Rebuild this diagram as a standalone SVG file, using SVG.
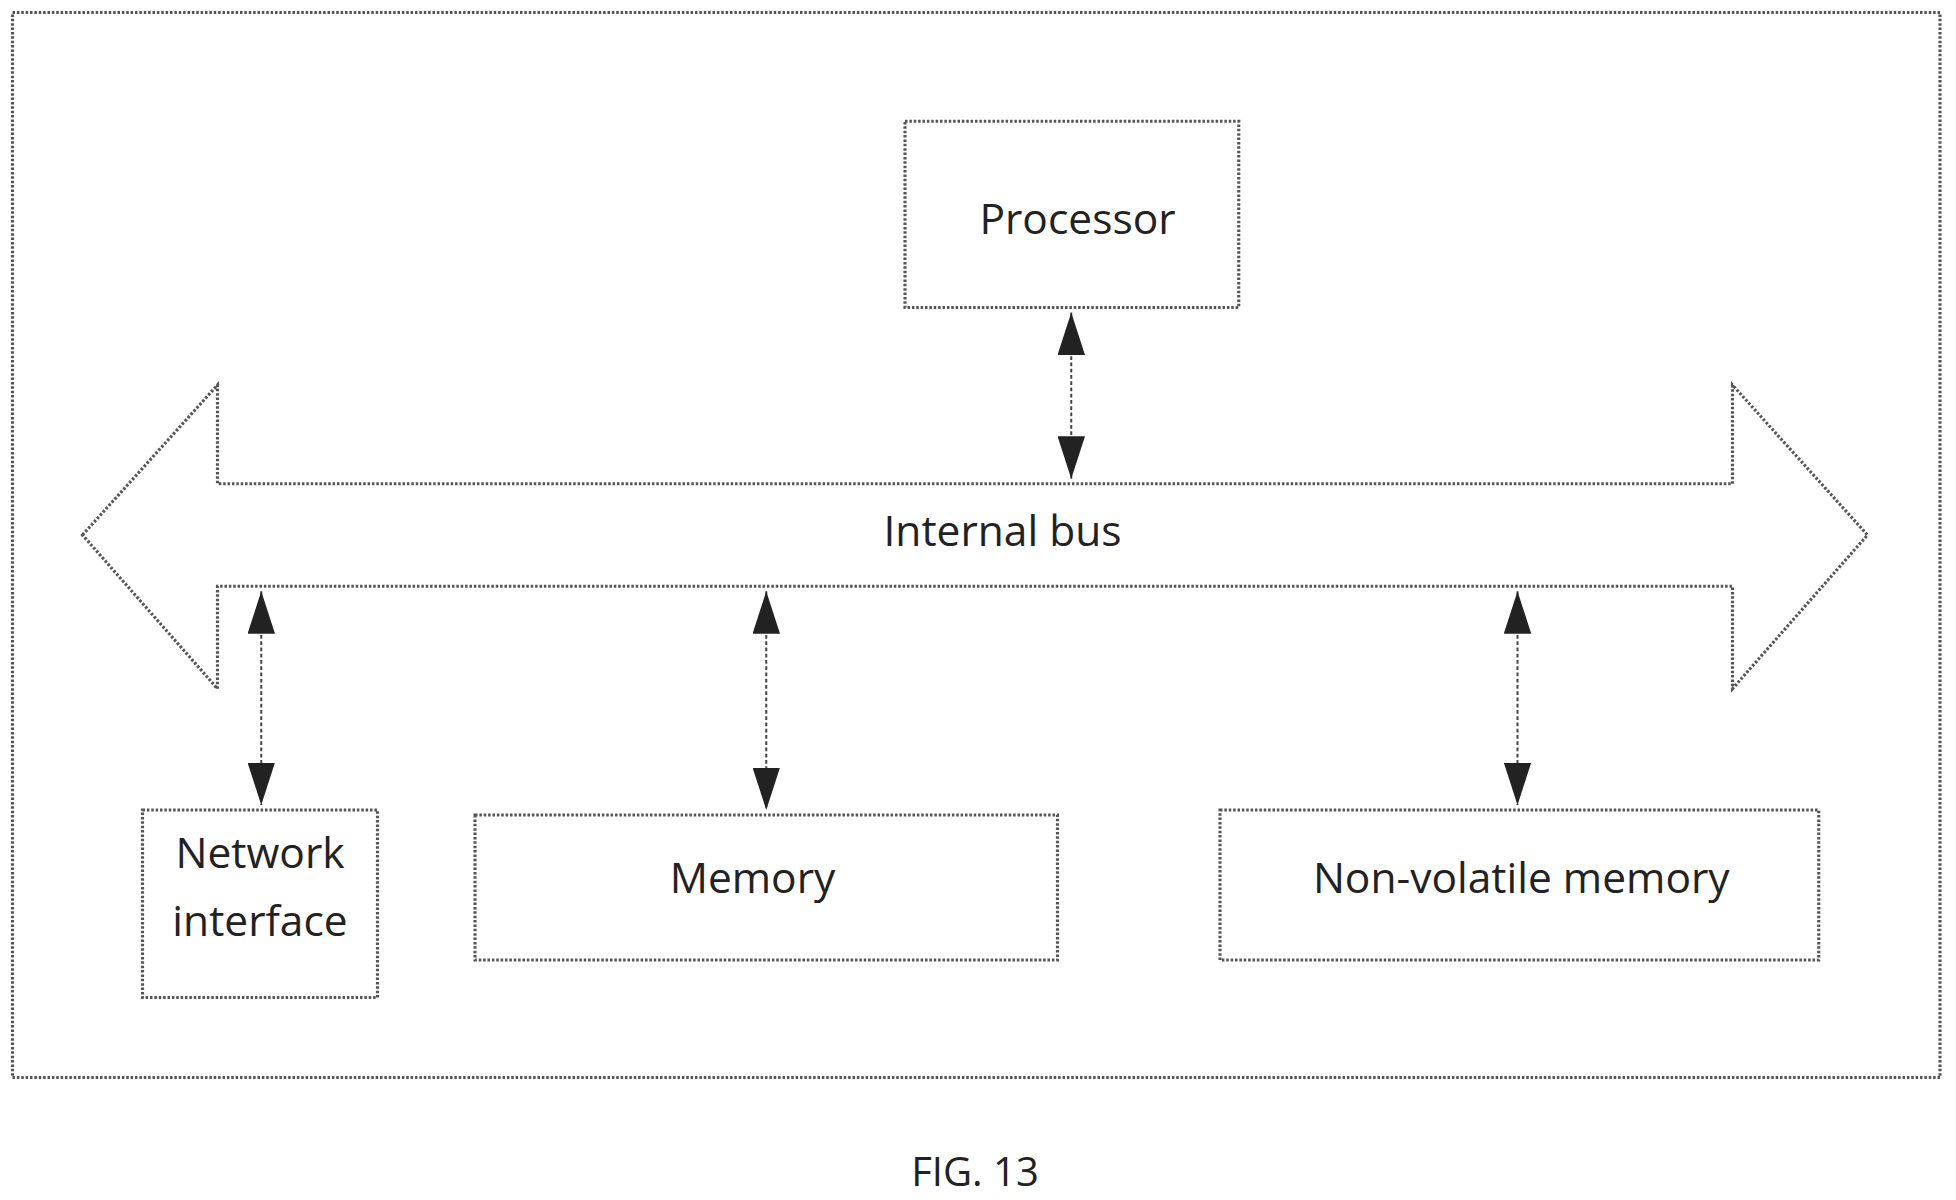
<svg xmlns="http://www.w3.org/2000/svg" width="1956" height="1200" viewBox="0 0 1956 1200">
<style>
.b{fill:none;stroke:#555;stroke-width:2.5;stroke-dasharray:2 1.5}
.t{font-family:"Open Sans","Liberation Sans",sans-serif;font-size:34px;fill:#222;text-anchor:middle;dominant-baseline:middle}
.c{stroke:#444;stroke-width:1.6;stroke-dasharray:3 2;marker-start:url(#a);marker-end:url(#a)}
</style>
<defs><marker id="a" viewBox="0 0 10 10" refX="10" refY="5" markerWidth="34" markerHeight="22" markerUnits="userSpaceOnUse" orient="auto-start-reverse" preserveAspectRatio="none"><path d="M0,0L10,5L0,10z" fill="#222"/></marker></defs>
<rect width="1956" height="1200" fill="#fff"/>
<g transform="scale(1.25)">
<rect id="frame" class="b" x="10" y="10" width="1542" height="852"/>
<g id="processor"><rect class="b" x="724" y="97" width="267" height="149"/><text class="t" x="862" y="178">Processor</text></g>
<g id="bus"><path class="b" d="M66,428L174,308V387H1386V308L1494,428L1386,551V469H174V551Z"/><text class="t" x="802" y="428">Internal bus</text></g>
<g id="network"><rect class="b" x="114" y="648" width="188" height="150"/><text class="t" x="208" y="685">Network</text><text class="t" x="208" y="740">interface</text></g>
<g id="memory"><rect class="b" x="380" y="652" width="466" height="116"/><text class="t" x="602" y="705">Memory</text></g>
<g id="nvm"><rect class="b" x="976" y="648" width="479" height="120"/><text class="t" x="1217" y="705">Non-volatile memory</text></g>
<g id="connectors">
<line class="c" x1="857" y1="250" x2="857" y2="383"/>
<line class="c" x1="209" y1="473" x2="209" y2="644"/>
<line class="c" x1="613" y1="473" x2="613" y2="648"/>
<line class="c" x1="1214" y1="473" x2="1214" y2="644"/>
</g>
<text class="t" x="780" y="940" style="font-size:32px">FIG. 13</text>
</g>
</svg>
